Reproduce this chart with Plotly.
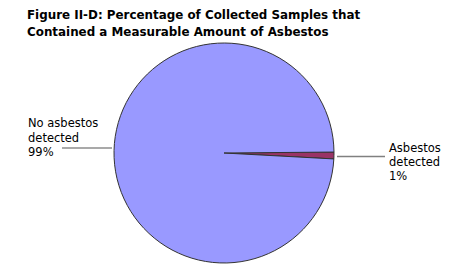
import plotly.graph_objects as go

categories = ["Asbestos detected", "No asbestos detected"]
values = [1, 99]
colors = ["#993366", "#9999FF"]
title_lines = ["Figure II-D: Percentage of Collected Samples that",
               "Contained a Measurable Amount of Asbestos"]

W, H = 467, 273
total = sum(values)
pct = [f"{round(v / total * 100)}%" for v in values]

fig = go.Figure(go.Pie(
    labels=categories, values=values, sort=False, direction="clockwise",
    rotation=89.5, textinfo="none", hoverinfo="label+percent",
    marker=dict(colors=colors, line=dict(color="#333333", width=1)),
    domain=dict(x=[114 / W, 334 / W], y=[10 / H, 230 / H]),
    showlegend=False,
))

font = dict(family="DejaVu Sans, Verdana, sans-serif", size=11.5, color="#000000")
tfont = dict(family="DejaVu Sans, Verdana, sans-serif", size=11.9, color="#000000")

def label_lines(cat, p):
    words = cat.split(" ")
    return [" ".join(words[:-1]), words[-1], p]

ann = []
for i, t in enumerate(title_lines):
    ann.append(dict(x=25 / W, y=1 - (15 + i * 17) / H, xref="paper", yref="paper",
                    text="<b>" + t + "</b>", showarrow=False, xanchor="left",
                    yanchor="middle", font=tfont))
# right label (Asbestos detected)
for i, t in enumerate(label_lines(categories[0], pct[0])):
    ann.append(dict(x=387 / W, y=1 - (148 + i * 14) / H, xref="paper", yref="paper",
                    text=t, showarrow=False, xanchor="left", yanchor="middle", font=font))
# left label (No asbestos detected)
for i, t in enumerate(label_lines(categories[1], pct[1])):
    ann.append(dict(x=26 / W, y=1 - (123 + i * 14.5) / H, xref="paper", yref="paper",
                    text=t, showarrow=False, xanchor="left", yanchor="middle", font=font))

shapes = [
    dict(type="line", xref="paper", yref="paper", x0=62 / W, x1=112 / W,
         y0=1 - 148 / H, y1=1 - 148 / H, line=dict(color="#555555", width=1.2)),
    dict(type="line", xref="paper", yref="paper", x0=337 / W, x1=385 / W,
         y0=1 - 156.5 / H, y1=1 - 156.5 / H, line=dict(color="#808080", width=1.5)),
]

fig.update_layout(
    width=W, height=H, margin=dict(l=0, r=0, t=0, b=0),
    paper_bgcolor="white", plot_bgcolor="white",
    annotations=ann, shapes=shapes,
)

fig.write_html("out.html")
